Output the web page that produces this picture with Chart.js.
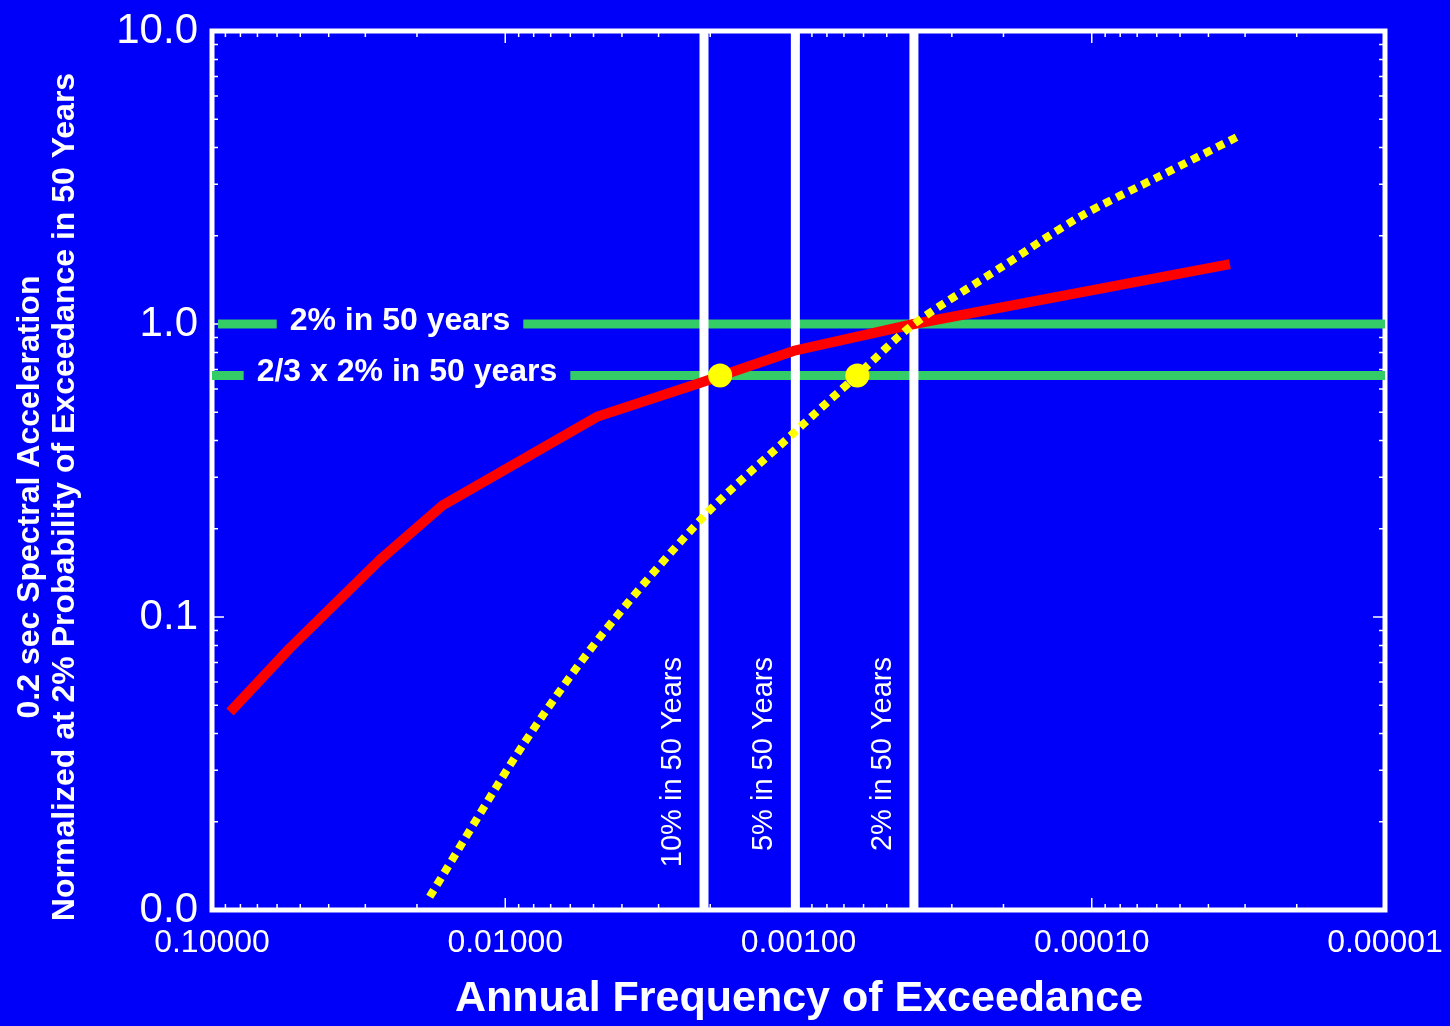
<!doctype html>
<html>
  <head>
    <title>Hazard curves</title>
    <script src="https://cdn.jsdelivr.net/npm/chart.js@4.4.1/dist/chart.umd.min.js"></script>
    <style>
      body { margin: 0; background: #0000fa; }
      #HazardChart { display: block; background: #0000fa; }
    </style>
  </head>
  <body>
    <canvas id="HazardChart" width="1450" height="1026"></canvas>
    <script>
    // values
    var xTicks = [0.1, 0.01, 0.001, 0.0001, 0.00001];
    var xTickLabels = ['0.10000', '0.01000', '0.00100', '0.00010', '0.00001'];
    var yTicks = [0.01, 0.1, 1, 10];
    var yTickLabels = ['0.0', '0.1', '1.0', '10.0'];

    var redFreq = [0.0868, 0.0542, 0.0267, 0.0163, 0.00487, 0.00217, 0.00104, 0.000404, 0.0000338];
    var redAcc  = [0.0474, 0.0784, 0.157, 0.241, 0.482, 0.629, 0.809, 1.0, 1.60];

    var yellowFreq = [0.0181, 0.0087, 0.00475, 0.00208, 0.00103, 0.000632, 0.000404, 0.000206, 0.00011, 0.0000585, 0.0000312];
    var yellowAcc  = [0.0111, 0.0366, 0.0855, 0.223, 0.428, 0.667, 1.0, 1.55, 2.32, 3.2, 4.4];

    var dotFreq = [0.00185, 0.00063];
    var dotAcc  = [0.667, 0.667];

    var hazardLevels = [0.0021, 0.001025, 0.000404];
    var hazardLabels = ['10% in 50 Years', '5% in 50 Years', '2% in 50 Years'];

    var designLevels = [1.0, 0.667];
    var designStart = [0.0954, 0.1];
    var designLabels = ['2% in 50 years', '2/3 x 2% in 50 years'];

    var BLUE = '#0000fa';
    var GREEN = '#33cc66';

    function pts(xs, ys) {
      var out = [];
      for (var i = 0; i < xs.length; i++) out.push({x: xs[i], y: ys[i]});
      return out;
    }

    var datasets = [];
    datasets.push({ data: pts(dotFreq, dotAcc), showLine: false, pointRadius: 12, pointBackgroundColor: '#ffff00', pointBorderWidth: 0, order: 0 });
    datasets.push({ data: pts(yellowFreq, yellowAcc), showLine: true, borderColor: '#ffff00', borderWidth: 8, borderDash: [8, 6], borderCapStyle: 'butt', tension: 0.3, pointRadius: 0, order: 1 });
    datasets.push({ data: pts(redFreq, redAcc), showLine: true, borderColor: '#ff0000', borderWidth: 10, borderJoinStyle: 'round', pointRadius: 0, order: 2 });
    for (var h = 0; h < hazardLevels.length; h++) {
      datasets.push({ data: [{x: hazardLevels[h], y: 0.01}, {x: hazardLevels[h], y: 10}], showLine: true, borderColor: '#ffffff', borderWidth: 9, pointRadius: 0, order: 3 });
    }
    for (var d = 0; d < designLevels.length; d++) {
      datasets.push({ data: [{x: designStart[d], y: designLevels[d]}, {x: 0.00001, y: designLevels[d]}], showLine: true, borderColor: GREEN, borderWidth: 9, pointRadius: 0, order: 4, clip: false });
    }

    // frame and inside ticks on all four sides
    var framePlugin = {
      id: 'frame',
      beforeDatasetsDraw: function(chart) {
        var ctx = chart.ctx, a = chart.chartArea;
        var xs = chart.scales.x, ys = chart.scales.y;
        ctx.save();
        ctx.strokeStyle = '#ffffff';
        ctx.lineWidth = 1.5;
        ctx.beginPath();
        for (var e = -5; e < -1; e++) {
          for (var m = 1; m < 10; m++) {
            var v = m * Math.pow(10, e);
            var px = xs.getPixelForValue(v);
            var len = m == 1 ? 12 : 6;
            ctx.moveTo(px, a.bottom); ctx.lineTo(px, a.bottom - len);
            ctx.moveTo(px, a.top); ctx.lineTo(px, a.top + len);
          }
        }
        for (var e2 = -2; e2 < 1; e2++) {
          for (var m2 = 1; m2 < 10; m2++) {
            var v2 = m2 * Math.pow(10, e2);
            var py = ys.getPixelForValue(v2);
            var len2 = m2 == 1 ? 12 : 6;
            ctx.moveTo(a.left, py); ctx.lineTo(a.left + len2, py);
            ctx.moveTo(a.right, py); ctx.lineTo(a.right - len2, py);
          }
        }
        ctx.stroke();
        ctx.lineWidth = 5;
        ctx.strokeRect(a.left, a.top, a.right - a.left, a.bottom - a.top);
        ctx.restore();
      },
      afterDraw: function(chart) {
        var ctx = chart.ctx, a = chart.chartArea;
        var xs = chart.scales.x, ys = chart.scales.y;
        ctx.save();
        ctx.fillStyle = '#ffffff';

        // labels sitting on the green lines, with a blue gap behind them
        ctx.font = 'bold 32px "Liberation Sans", Arial, sans-serif';
        ctx.textBaseline = 'middle';
        ctx.textAlign = 'center';
        var labelX = [400, 407];
        for (var d = 0; d < designLevels.length; d++) {
          var py = ys.getPixelForValue(designLevels[d]);
          var w = ctx.measureText(designLabels[d]).width;
          ctx.fillStyle = BLUE;
          ctx.fillRect(labelX[d] - w / 2 - 13, py - 8, w + 26, 16);
          ctx.fillStyle = '#ffffff';
          ctx.fillText(designLabels[d], labelX[d], py - 3);
        }

        // labels next to the white hazard lines, top-aligned
        ctx.font = '29px "Liberation Sans", Arial, sans-serif';
        ctx.textAlign = 'right';
        for (var h = 0; h < hazardLevels.length; h++) {
          var px = xs.getPixelForValue(hazardLevels[h]);
          ctx.save();
          ctx.translate(px - 31, 657);
          ctx.rotate(-Math.PI / 2);
          ctx.fillText(hazardLabels[h], 0, 0);
          ctx.restore();
        }

        // axis titles
        ctx.textAlign = 'center';
        ctx.font = 'bold 43px "Liberation Sans", Arial, sans-serif';
        ctx.fillText('Annual Frequency of Exceedance', 799, 999);

        ctx.font = 'bold 32px "Liberation Sans", Arial, sans-serif';
        ctx.save();
        ctx.translate(30, 497);
        ctx.rotate(-Math.PI / 2);
        ctx.fillText('0.2 sec Spectral Acceleration', 0, 0);
        ctx.restore();
        ctx.save();
        ctx.translate(65, 497);
        ctx.rotate(-Math.PI / 2);
        ctx.fillText('Normalized at 2% Probability of Exceedance in 50 Years', 0, 0);
        ctx.restore();

        ctx.restore();
      }
    };

    var ctx = document.getElementById('HazardChart');
    var myChart = new Chart(ctx, {
      type: 'scatter',
      data: { datasets: datasets },
      plugins: [framePlugin],
      options: {
        responsive: false,
        animation: false,
        devicePixelRatio: 1,
        layout: { padding: { top: 31, right: 65, left: 0, bottom: 0 } },
        plugins: { legend: { display: false }, tooltip: { enabled: false } },
        scales: {
          x: {
            type: 'logarithmic', reverse: true, min: 0.00001, max: 0.1,
            grid: { display: false, drawTicks: false }, border: { display: false },
            afterBuildTicks: function(s) { s.ticks = xTicks.slice().reverse().map(function(v) { return {value: v}; }); },
            afterFit: function(s) { s.height = 116; s.paddingLeft = 0; s.paddingRight = 0; },
            ticks: {
              color: '#ffffff', padding: 14, maxRotation: 0, autoSkip: false,
              font: { family: '"Liberation Sans", Arial, sans-serif', size: 32 },
              callback: function(v) { return xTickLabels[xTicks.indexOf(v)]; }
            }
          },
          y: {
            type: 'logarithmic', min: 0.01, max: 10,
            grid: { display: false, drawTicks: false }, border: { display: false },
            afterBuildTicks: function(s) { s.ticks = yTicks.map(function(v) { return {value: v}; }); },
            afterFit: function(s) { s.width = 212; s.paddingTop = 0; s.paddingBottom = 0; },
            ticks: {
              color: '#ffffff', padding: 14, autoSkip: false,
              font: { family: '"Liberation Sans", Arial, sans-serif', size: 42 },
              callback: function(v) { return yTickLabels[yTicks.indexOf(v)]; }
            }
          }
        }
      }
    });
    </script>
  </body>
</html>
